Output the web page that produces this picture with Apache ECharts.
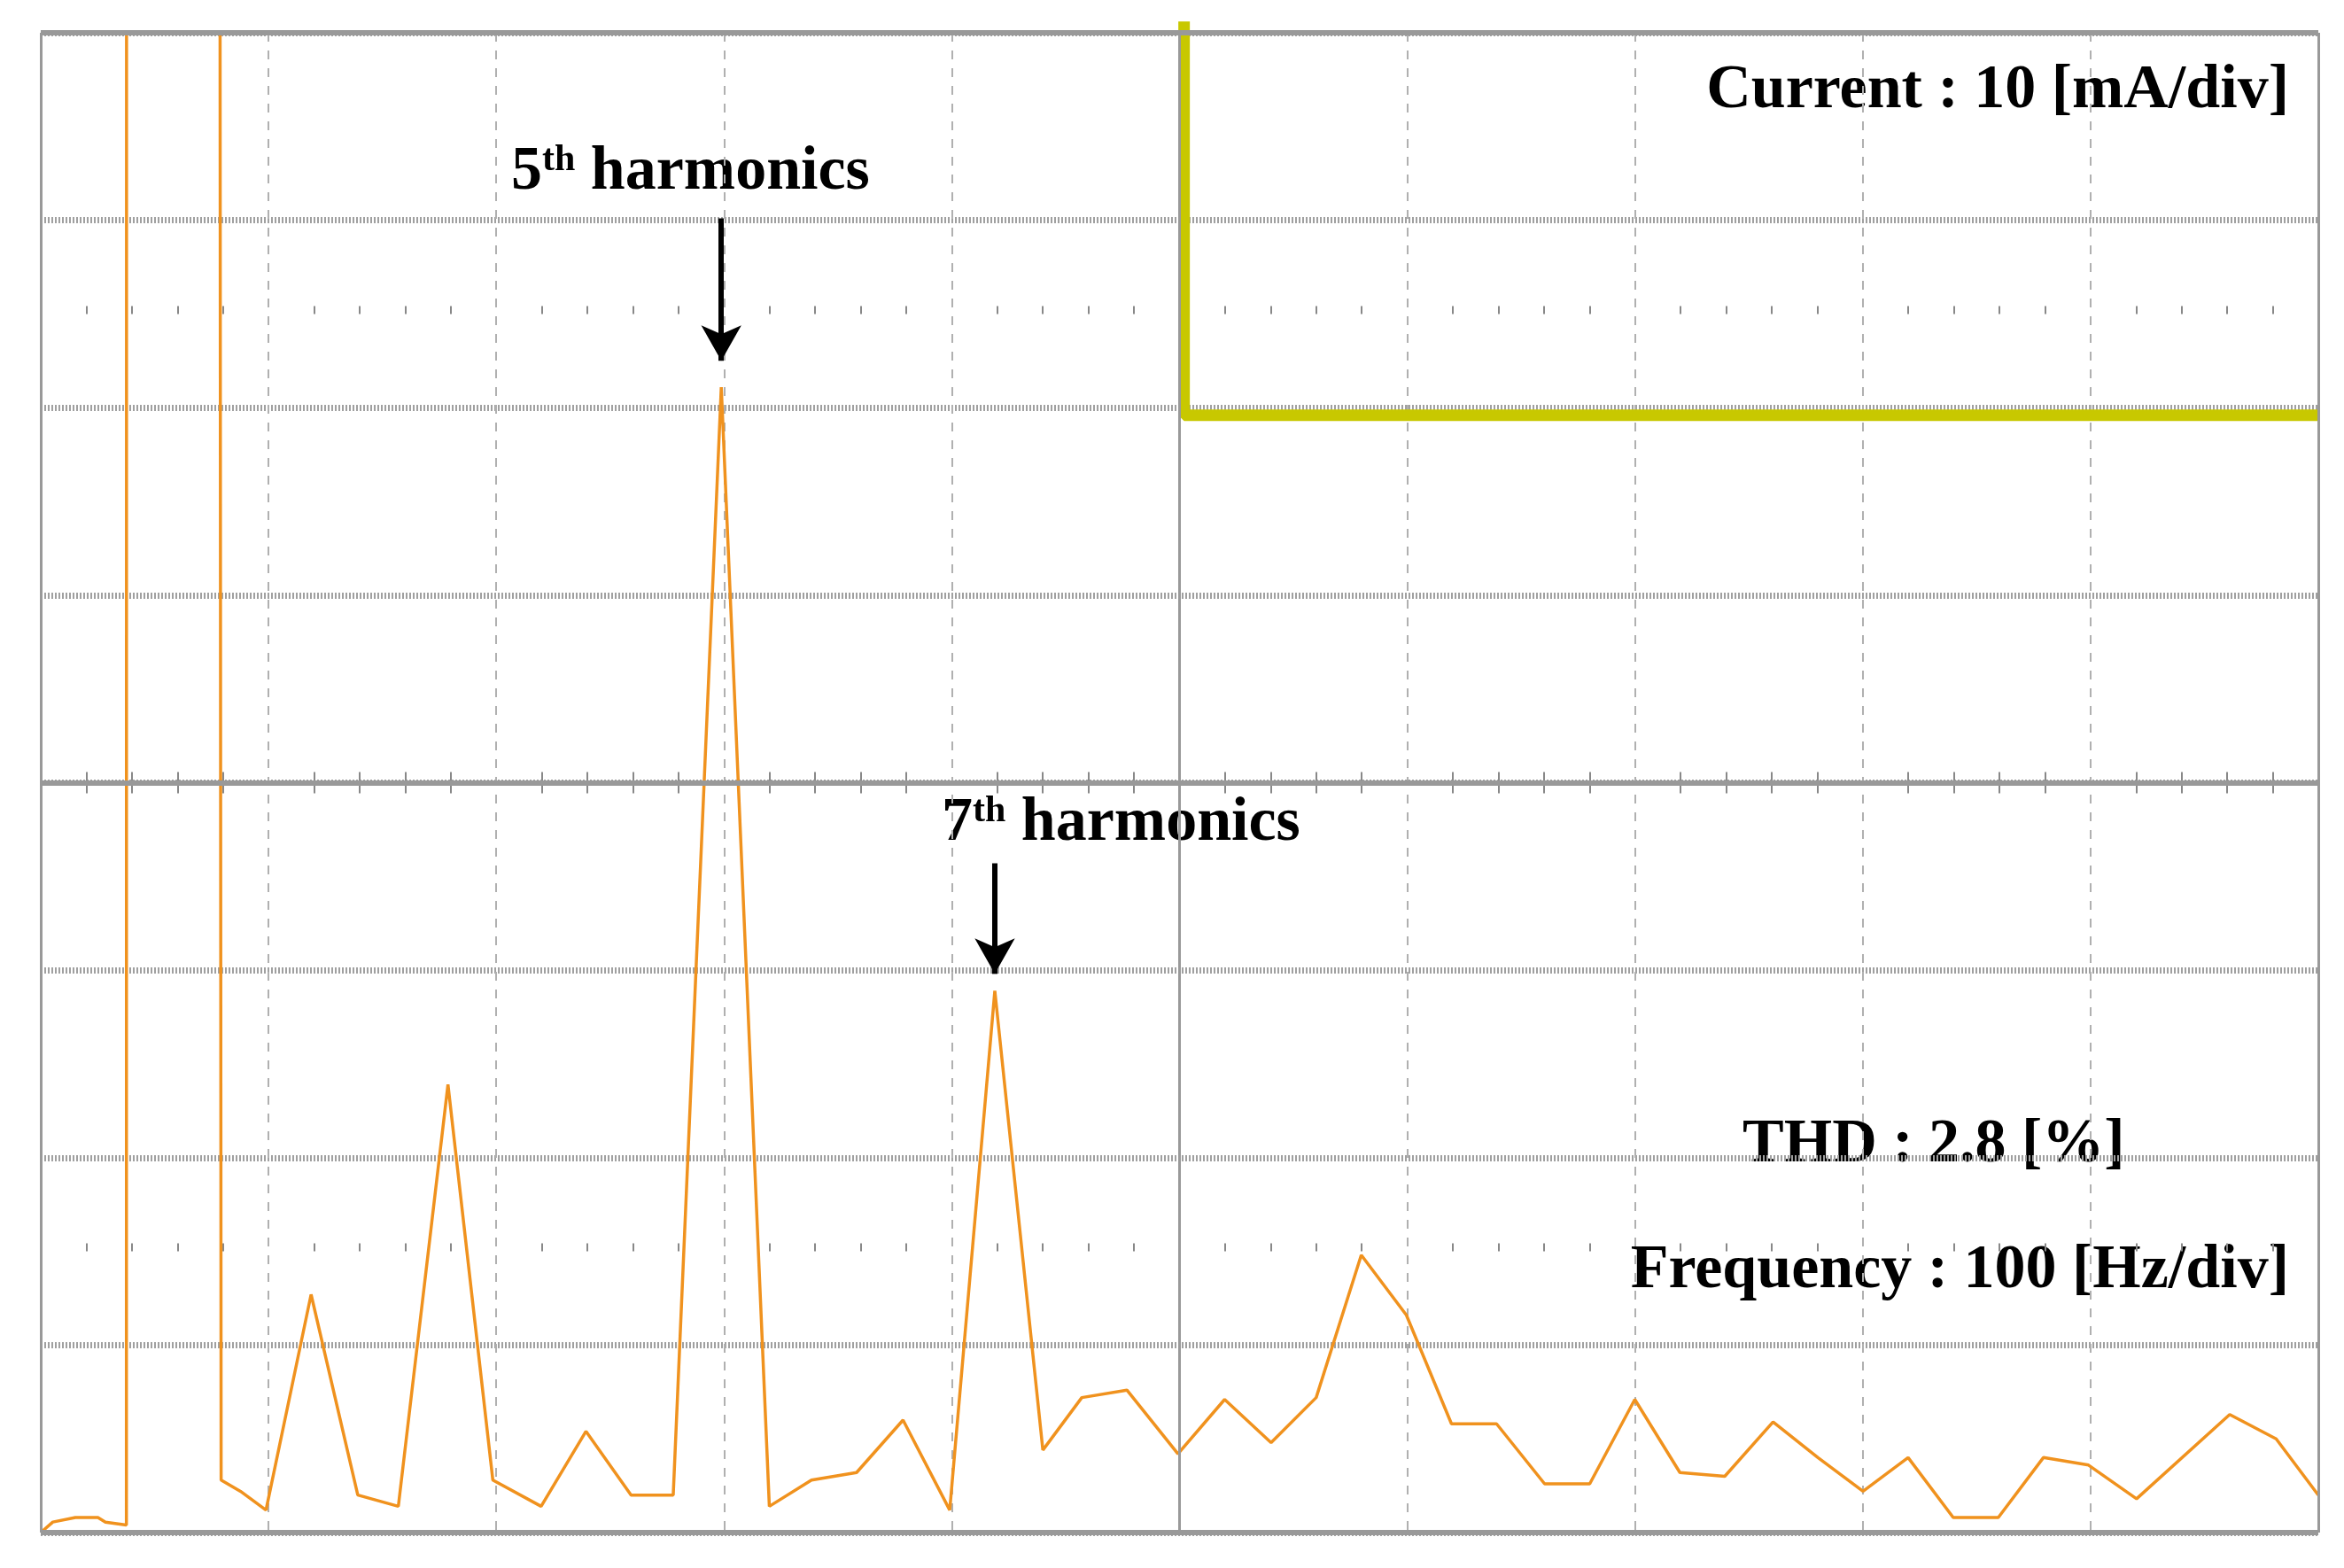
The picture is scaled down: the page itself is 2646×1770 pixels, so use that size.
<!DOCTYPE html>
<html>
<head>
<meta charset="utf-8">
<script src="https://cdn.jsdelivr.net/npm/echarts@6/dist/echarts.min.js"></script>
<style>html,body{margin:0;padding:0;background:#fff}#chart{width:2646px;height:1770px}</style>
</head>
<body>
<div id="chart"></div>
<script>
// spectrum trace: frequency [Hz], amplitude [div]
var freq = [0, 5.3, 15.2, 25.1, 28.4, 37.6, 37.7, 78.5, 79.2, 87.7, 98.9, 118.7, 139.2, 157.0, 178.8, 198.5,
  219.7, 239.4, 259.2, 277.7, 298.8, 319.9, 338.4, 358.2, 378.6, 399.1, 418.9, 440.0, 457.1, 476.9, 499.3,
  519.8, 540.2, 560.0, 579.8, 599.6, 619.4, 639.2, 660.3, 680.1, 699.9, 719.7, 739.4, 760.6, 780.3, 800.1,
  819.9, 839.7, 859.5, 879.3, 899.1, 920.2, 961.1, 981.5, 1000];
var amp = [0, 0.056, 0.08, 0.08, 0.056, 0.04, 12, 12, 0.28, 0.22, 0.12, 1.27, 0.20, 0.14, 2.39, 0.28,
  0.14, 0.54, 0.20, 0.20, 6.11, 0.14, 0.28, 0.32, 0.60, 0.12, 2.89, 0.44, 0.72, 0.76, 0.42,
  0.71, 0.48, 0.72, 1.48, 1.16, 0.58, 0.58, 0.26, 0.26, 0.71, 0.32, 0.30, 0.59, 0.40, 0.22,
  0.40, 0.08, 0.08, 0.40, 0.36, 0.18, 0.63, 0.50, 0.20];
// yellow cursor trace
var cursorX = [502, 502, 1000];
var cursorY = [8.06, 5.96, 5.96];

var F = echarts.init(document.getElementById("chart"));
var font = "bold 70px 'Liberation Serif'";
var zip = function(a, b) {
  for (var n = [], i = 0; i < a.length; i++) n.push([a[i], b[i]]);
  return n;
};
var minorAxis = function(idx, len) {
  return {
    type: "value", min: 0, max: 1000, interval: 100, gridIndex: 0, show: true,
    axisLine: { show: false, onZero: true, onZeroAxisIndex: idx },
    axisTick: { show: false }, axisLabel: { show: false }, splitLine: { show: false },
    minorTick: { show: true, splitNumber: 5, length: len, lineStyle: { color: "#888", width: 2 } }
  };
};
var ya = function(o) { return Object.assign({ type: "value", min: 0, max: 8, interval: 1, show: false }, o); };
var sup = function(n, l, t) {
  return {
    type: "text", left: l, top: t,
    style: {
      text: "{b|" + n + "}{s|th}{b| harmonics}",
      rich: {
        b: { font: font, fill: "#000", verticalAlign: "bottom" },
        s: { font: "bold 42px 'Liberation Serif'", fill: "#000", verticalAlign: "top", padding: [0, 0, 26, 0] }
      }
    }
  };
};

var r = {
  animation: false,
  grid: { left: 46, right: 29, top: 37, bottom: 40 },
  xAxis: [{
    type: "value", min: 0, max: 1000, interval: 100,
    axisLine: { show: false }, axisTick: { show: false }, axisLabel: { show: false },
    splitLine: { show: true, lineStyle: { color: "#b0b0b0", width: 2, type: [10, 10] } }
  },
    minorAxis(1, 12), minorAxis(1, -12), minorAxis(2, 9), minorAxis(3, 9)
  ],
  yAxis: [
    ya({
      show: true, axisLine: { show: false }, axisTick: { show: false }, axisLabel: { show: false },
      splitLine: { show: true, lineStyle: { color: "#a0a0a0", width: 7, type: [2, 2] } }
    }),
    ya({ min: -4, max: 4 }),
    ya({ min: -6.5, max: 1.5 }),
    ya({ min: -1.5, max: 6.5 })
  ],
  series: [{
    type: "line", symbol: "none", silent: true,
    data: zip([0, 1000], [0, 0]),
    lineStyle: { width: 0 },
    markLine: {
      silent: true, symbol: "none", label: { show: false },
      lineStyle: { color: "#999", width: 6, type: "solid" },
      data: [{ yAxis: 0 }, { yAxis: 8 }, { yAxis: 4 }, { xAxis: 500, lineStyle: { width: 3 } }, { xAxis: 0, lineStyle: { width: 3 } }, { xAxis: 1000, lineStyle: { width: 3 } }]
    }
  }, {
    type: "line", symbol: "none", clip: true,
    lineStyle: { color: "#f0921e", width: 3.5 },
    data: zip(freq, amp),
    markLine: {
      silent: true, symbol: ["none", "arrow"], symbolSize: [34, 40], label: { show: false },
      lineStyle: { color: "#000", width: 6, type: "solid" },
      data: [
        [{ coord: [298.8, 7.01] }, { coord: [298.8, 6.25] }],
        [{ coord: [418.9, 3.57] }, { coord: [418.9, 2.98] }]
      ]
    }
  }, {
    type: "line", symbol: "none", clip: false,
    lineStyle: { color: "#c8c800", width: 13 },
    data: zip(cursorX, cursorY)
  }],
  graphic: [
    { type: "text", right: 62, top: 68, style: { text: "Current : 10 [mA/div]", font: font, fill: "#000" } },
    sup(5, 577, 160),
    sup(7, 1063, 895),
    { type: "text", left: 1967, top: 1258, style: { text: "THD : 2.8 [%]", font: font, fill: "#000" } },
    { type: "text", right: 62, top: 1400, style: { text: "Frequency : 100 [Hz/div]", font: font, fill: "#000" } }
  ]
};
F.setOption(r);
</script>
</body>
</html>
